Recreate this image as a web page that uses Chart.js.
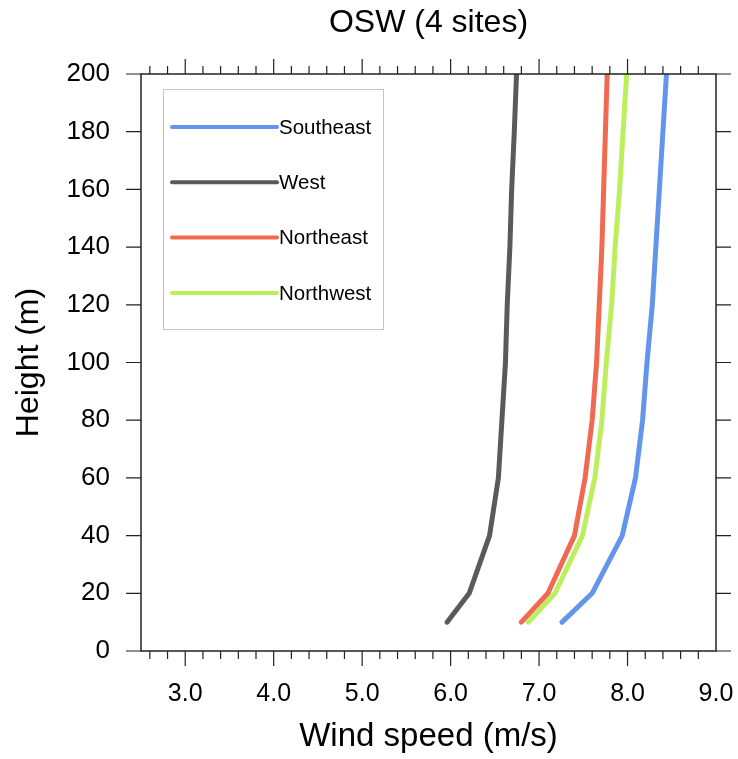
<!DOCTYPE html>
<html>
<head>
<meta charset="utf-8">
<script src="https://cdn.jsdelivr.net/npm/chart.js@4/dist/chart.umd.min.js"></script>
<style>
  html, body { margin: 0; padding: 0; background: #fff; }
  #wrap { width: 738px; height: 759px; }
</style>
</head>
<body>
<div id="wrap"><canvas id="myChart" width="738" height="759"></canvas></div>
<script>
// heights (m) and wind speed (m/s) per site
var heights = [10, 20, 40, 60, 80, 100, 120, 140, 160, 180, 200];
var southeast = [7.26, 7.60, 7.94, 8.09, 8.17, 8.22, 8.28, 8.32, 8.36, 8.40, 8.44];
var west = [5.96, 6.21, 6.44, 6.54, 6.58, 6.62, 6.64, 6.67, 6.69, 6.72, 6.745];
var northeast = [6.80, 7.10, 7.40, 7.52, 7.60, 7.65, 7.68, 7.71, 7.73, 7.75, 7.77];
var northwest = [6.88, 7.18, 7.49, 7.63, 7.71, 7.76, 7.82, 7.86, 7.91, 7.95, 7.99];

var siteNames = ["Southeast", "West", "Northeast", "Northwest"];
var siteColors = ["#6495ED", "#5a5a5a", "#EF6A50", "#BDEE5E"];
var xTickLabels = [3, 4, 5, 6, 7, 8, 9];

var fontName = "'Liberation Sans', Arial, Helvetica, sans-serif";

function toPoints(speeds) {
    return speeds.map(function(v, i) { return { x: v, y: heights[i] }; });
}

var series = [southeast, west, northeast, northwest];
var datasets = series.map(function(s, i) {
    return {
        label: siteNames[i],
        data: toPoints(s),
        borderColor: siteColors[i],
        backgroundColor: siteColors[i],
        borderWidth: 5,
        pointRadius: 0,
        tension: 0,
        borderCapStyle: "round",
        borderJoinStyle: "round",
        fill: false
    };
});

// box around the plot + outward tick marks (major and minor)
var frame = {
    id: "frame",
    afterDraw: function(chart) {
        var c = chart.ctx, a = chart.chartArea;
        var xs = chart.scales.x, ys = chart.scales.y;
        c.save();
        c.strokeStyle = "#222";
        c.lineWidth = 1.5;
        c.strokeRect(a.left, a.top, a.right - a.left, a.bottom - a.top);
        c.lineWidth = 1.2;
        c.beginPath();
        for (var k = 26; k <= 89; k += 2) {
            var v = k / 10;
            var px = xs.getPixelForValue(v);
            var len = (k % 10 === 0) ? 15 : 8;
            c.moveTo(px, a.bottom); c.lineTo(px, a.bottom + len);
            c.moveTo(px, a.top); c.lineTo(px, a.top - len);
        }
        for (var h = 0; h <= 200; h += 20) {
            var py = ys.getPixelForValue(h);
            c.moveTo(a.left, py); c.lineTo(a.left - 15, py);
            c.moveTo(a.right, py); c.lineTo(a.right + 15, py);
        }
        c.stroke();
        c.restore();
    }
};

// legend box in the upper left corner
var boxLegend = {
    id: "boxLegend",
    afterDraw: function(chart) {
        var c = chart.ctx;
        var x0 = 163, y0 = 89, w = 220, h = 240;
        c.save();
        c.strokeStyle = "#c4c4c4";
        c.lineWidth = 1;
        c.strokeRect(x0 + 0.5, y0 + 0.5, w, h);
        chart.data.datasets.forEach(function(ds, i) {
            var y = 127 + i * 55.3;
            c.strokeStyle = ds.borderColor;
            c.lineWidth = 4;
            c.lineCap = "round";
            c.beginPath();
            c.moveTo(172, y);
            c.lineTo(277, y);
            c.stroke();
            c.fillStyle = "#000";
            c.font = "20.5px " + fontName;
            c.textBaseline = "middle";
            c.fillText(ds.label, 279, y + 1);
        });
        c.restore();
    }
};

var ctx = document.getElementById("myChart").getContext("2d");
var myChart = new Chart(ctx, {
    type: "line",
    data: { datasets: datasets },
    plugins: [frame, boxLegend],
    options: {
        responsive: false,
        animation: false,
        layout: { padding: { left: 8, right: 22, top: 4, bottom: 2 } },
        plugins: {
            legend: { display: false },
            tooltip: { enabled: false },
            title: {
                display: true,
                fullSize: false,
                text: "OSW (4 sites)",
                color: "#000",
                font: { family: fontName, size: 32, weight: "normal" },
                padding: { top: 0, bottom: 31.6 }
            }
        },
        scales: {
            x: {
                type: "linear",
                min: 2.5,
                max: 9.0,
                afterBuildTicks: function(scale) {
                    scale.ticks = xTickLabels.map(function(v) { return { value: v }; });
                },
                afterFit: function(scale) {
                    scale.height = 106;
                    scale.paddingLeft = 0;
                    scale.paddingRight = 0;
                },
                grid: { display: false },
                border: { display: false },
                ticks: {
                    color: "#000",
                    font: { family: fontName, size: 25 },
                    padding: 20,
                    maxRotation: 0,
                    callback: function(v) { return Number(v).toFixed(1); }
                },
                title: {
                    display: true,
                    text: "Wind speed (m/s)",
                    color: "#000",
                    font: { family: fontName, size: 33 },
                    padding: { top: 10, bottom: 0 }
                }
            },
            y: {
                min: 0,
                max: 200,
                afterFit: function(scale) {
                    scale.width = 133;
                    scale.paddingTop = 0;
                    scale.paddingBottom = 0;
                },
                grid: { display: false },
                border: { display: false },
                ticks: {
                    stepSize: 20,
                    color: "#000",
                    font: { family: fontName, size: 26 },
                    padding: 23
                },
                title: {
                    display: true,
                    text: "Height (m)",
                    color: "#000",
                    font: { family: fontName, size: 32 },
                    padding: { top: 2, bottom: 10 }
                }
            }
        }
    }
});
</script>
</body>
</html>
